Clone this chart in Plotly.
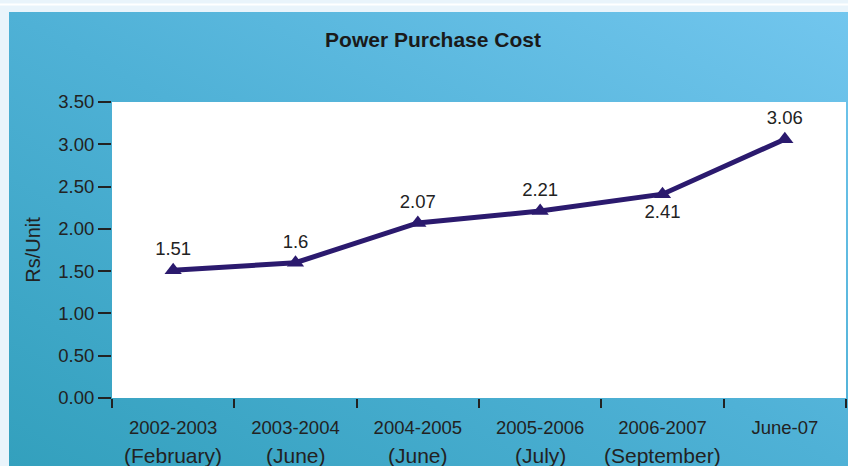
import base64
import plotly.graph_objects as go

# ---- data ----
categories = ["2002-2003", "2003-2004", "2004-2005", "2005-2006", "2006-2007", "June-07"]
sub_labels = ["(February)", "(June)", "(June)", "(July)", "(September)", ""]
values = [1.51, 1.6, 2.07, 2.21, 2.41, 3.06]
label_positions = ["top center", "top center", "top center", "top center", "bottom center", "top center"]
y_ticks = [0, 0.5, 1.0, 1.5, 2.0, 2.5, 3.0, 3.5]

W, H = 848, 466
L, R, T, B = 112, 2, 102, 68
pw, ph = W - L - R, H - T - B

FONT = "Liberation Sans, Arial, sans-serif"
TXT = "#222222"
LINE = "#2b1a6e"

# gradient panel background as SVG data URI
svg = (
    '<svg xmlns="http://www.w3.org/2000/svg" width="839" height="454" '
    'preserveAspectRatio="none" viewBox="0 0 839 454">'
    '<defs><linearGradient id="g" x1="0" y1="1" x2="1" y2="0">'
    '<stop offset="0" stop-color="#33a0bd"/>'
    '<stop offset="0.5" stop-color="#4fb1d6"/>'
    '<stop offset="1" stop-color="#72c6ee"/>'
    '</linearGradient></defs>'
    '<rect width="839" height="454" fill="url(#g)"/></svg>'
)
src = "data:image/svg+xml;base64," + base64.b64encode(svg.encode()).decode()

px0, px1, py0, py1 = 9, 848, 12, 466
img_x = (px0 - L) / pw
img_y_top = (H - B - py0) / ph
img_w = (px1 - px0) / pw
img_h = (py1 - py0) / ph

fig = go.Figure()
fig.add_trace(go.Scatter(
    x=categories, y=values,
    mode="lines+markers+text",
    line=dict(color=LINE, width=5),
    marker=dict(symbol="triangle-up", size=15, color=LINE),
    text=[f"{v:g}" for v in values],
    textposition=label_positions,
    textfont=dict(family=FONT, size=18.5, color=TXT),
    cliponaxis=False,
    hoverinfo="skip",
))

# second line of category labels
for c, s in zip(categories, sub_labels):
    if s:
        fig.add_annotation(x=c, y=0, xref="x", yref="y", text=s, showarrow=False,
                           yshift=-57, font=dict(family=FONT, size=21, color=TXT))

fig.update_layout(
    width=W, height=H,
    margin=dict(l=L, r=R, t=T, b=B, pad=0),
    paper_bgcolor="#e9f4fb",
    plot_bgcolor="rgba(0,0,0,0)",
    showlegend=False,
    title=dict(text="<b>Power Purchase Cost</b>", x=(433 - L) / pw, xref="paper",
               xanchor="center", y=1 - 40 / H, yanchor="middle",
               font=dict(family=FONT, size=21, color="#1a1a1a")),
    images=[dict(source=src, xref="paper", yref="paper", x=img_x, y=img_y_top,
                 sizex=img_w, sizey=img_h, xanchor="left", yanchor="top",
                 sizing="stretch", layer="below")],
    shapes=[
        dict(type="line", xref="paper", yref="paper",
             x0=-L / pw, x1=1 + R / pw, y0=(H - B - 4.5) / ph, y1=(H - B - 4.5) / ph,
             line=dict(color="#ffffff", width=2), layer="below"),
        dict(type="rect", xref="paper", yref="paper", x0=0, x1=1, y0=0, y1=1,
             fillcolor="#ffffff", line=dict(width=0), layer="below"),
    ],
    xaxis=dict(
        type="category", tickson="boundaries", ticks="outside", ticklen=9,
        tickwidth=2, tickcolor=TXT, showgrid=False, zeroline=False, showline=False,
        tickfont=dict(family=FONT, size=18.5, color=TXT), ticklabelstandoff=16,
        range=[-0.5, 5.5], fixedrange=True,
    ),
    yaxis=dict(
        range=[0, 3.5], tickvals=y_ticks, tickformat=".2f", ticks="outside",
        ticklen=13, tickwidth=2, tickcolor=TXT, showgrid=False, zeroline=False,
        showline=False, tickfont=dict(family=FONT, size=18.5, color=TXT),
        title=dict(text="Rs/Unit", font=dict(family=FONT, size=20, color=TXT), standoff=12),
        fixedrange=True,
    ),
)

fig.write_html("out.html", config={"displayModeBar": False},
               post_script="document.body.style.margin='0px';document.body.style.overflow='hidden';")
